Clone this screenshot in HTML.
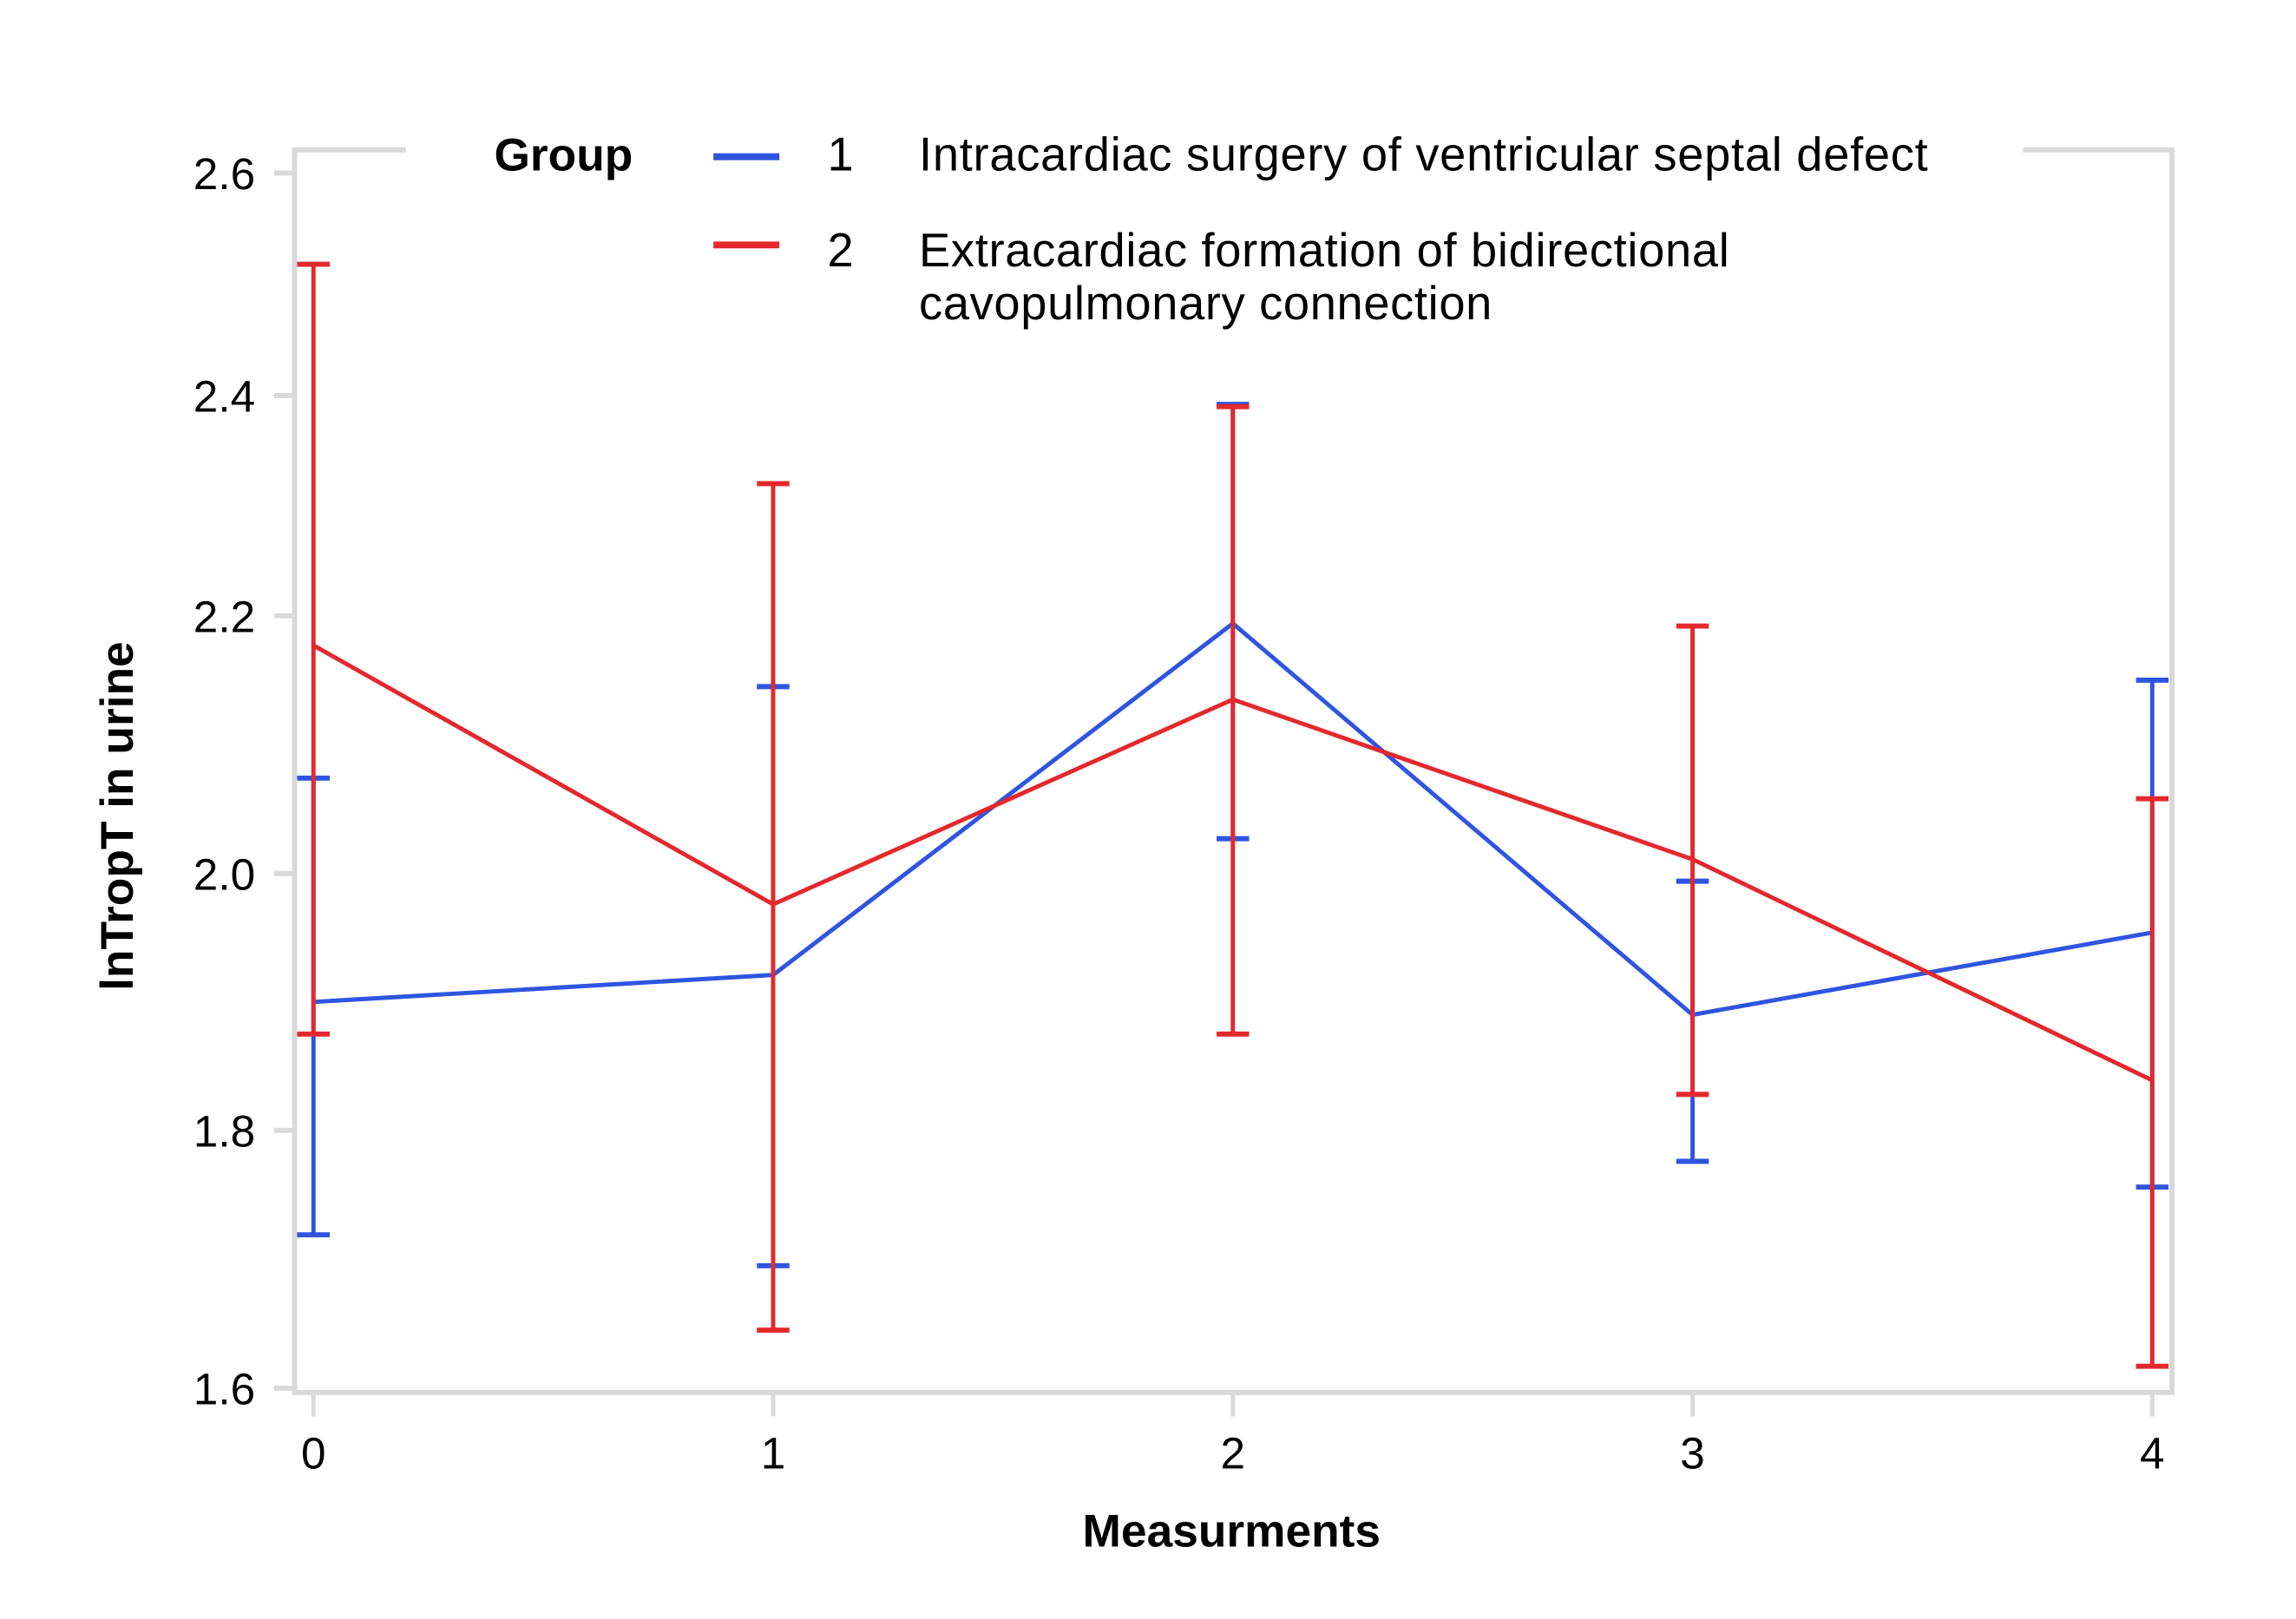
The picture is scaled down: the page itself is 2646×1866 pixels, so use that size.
<!DOCTYPE html>
<html><head><meta charset="utf-8"><style>
html,body{margin:0;padding:0;background:#fff;}
svg{display:block;font-family:"Liberation Sans",Arial,sans-serif;}
</style></head><body>
<svg id="chart" width="2646" height="1866" viewBox="0 0 2646 1866">
<g transform="scale(0.987)">
<g id="frame"></g>
<g id="marks"></g>
<g id="legend">
  <rect x="474" y="150" width="1888" height="60" fill="#fff"/>
  <text x="577" y="199" font-size="54" font-weight="bold">Group</text>
  <line x1="833" y1="183" x2="910" y2="183" stroke="#2f55e0" stroke-width="8"/>
  <text x="966" y="199" font-size="55">1</text>
  <text x="1073" y="199" font-size="55" textLength="1178">Intracardiac surgery of ventricular septal defect</text>
  <line x1="833" y1="286" x2="910" y2="286" stroke="#e3292d" stroke-width="8"/>
  <text x="966" y="311" font-size="55">2</text>
  <text x="1073" y="311" font-size="55" textLength="946">Extracardiac formation of bidirectional</text>
  <text x="1073" y="373" font-size="55" textLength="669">cavopulmonary connection</text>
</g>
<text x="1438" y="1806" font-size="54" font-weight="bold" text-anchor="middle">Measurments</text>
<text transform="translate(155,953) rotate(-90)" font-size="54" font-weight="bold" text-anchor="middle">lnTropT in urine</text>
</g>
<script>
const categories = [0, 1, 2, 3, 4];
const yTicks = [1.6, 1.8, 2.0, 2.2, 2.4, 2.6];
const yTickPix = [1621, 1320, 1020, 719, 462, 202];
const blueMean = [1.900, 1.921, 2.194, 1.890, 1.954];
const blueUpper = [2.074, 2.145, 2.392, 1.994, 2.150];
const blueLower = [1.719, 1.695, 2.027, 1.776, 1.756];
const redMean = [2.177, 1.976, 2.135, 2.011, 1.839];
const redUpper = [2.518, 2.320, 2.390, 2.192, 2.058];
const redLower = [1.875, 1.645, 1.875, 1.828, 1.617];

const NS = "http://www.w3.org/2000/svg";
function xs(c){ return 366 + c * (2513 - 366) / 4; }
function ys(v){
  for (let i = 0; i < yTicks.length - 1; i++) {
    if (v <= yTicks[i+1] || i === yTicks.length - 2) {
      const t = (v - yTicks[i]) / (yTicks[i+1] - yTicks[i]);
      return yTickPix[i] + t * (yTickPix[i+1] - yTickPix[i]);
    }
  }
}
function mk(tag, attrs, parent){
  const e = document.createElementNS(NS, tag);
  for (const k in attrs) e.setAttribute(k, attrs[k]);
  parent.appendChild(e);
  return e;
}
const frame = document.getElementById('frame');
const marks = document.getElementById('marks');
const G = "#d9d9d9";
let r = mk('rect', {x:344, y:175, width:2192, height:1451, fill:'none', stroke:G, 'stroke-width':6}, frame);


yTicks.forEach((v) => {
  const y = ys(v);
  const t = mk('line', {x1:320, x2:344, y1:y, y2:y, stroke:G, 'stroke-width':6}, frame);
  
  
  const l = mk('text', {x:298, y:y+19, 'font-size':52, 'text-anchor':'end'}, frame);
  l.textContent = v.toFixed(1);
  
  
});
categories.forEach((c) => {
  const x = xs(c);
  const t = mk('line', {x1:x, x2:x, y1:1626, y2:1654, stroke:G, 'stroke-width':5}, frame);
  
  
  const l = mk('text', {x:x, y:1715, 'font-size':52, 'text-anchor':'middle'}, frame);
  l.textContent = String(c);
  
  
});
function series(mean, up, lo, color, name){
  const g = mk('g', {}, marks);
  
  
  categories.forEach((c, i) => {
    const x = xs(c);
    const e = mk('line', {x1:x, x2:x, y1:ys(up[i]), y2:ys(lo[i]), stroke:color, 'stroke-width':5}, g);
    
    
    [up[i], lo[i]].forEach((v) => {
      const cap = mk('line', {x1:x-19, x2:x+19, y1:ys(v), y2:ys(v), stroke:color, 'stroke-width':6}, g);
      
      
    });
  });
  const pts = categories.map((c, i) => xs(c) + ',' + ys(mean[i])).join(' ');
  const pl = mk('polyline', {points:pts, fill:'none', stroke:color, 'stroke-width':5}, g);
  
  
}
series(blueMean, blueUpper, blueLower, '#2f55e0', 'group-1');
series(redMean, redUpper, redLower, '#e3292d', 'group-2');
</script>
</svg>
</body></html>
